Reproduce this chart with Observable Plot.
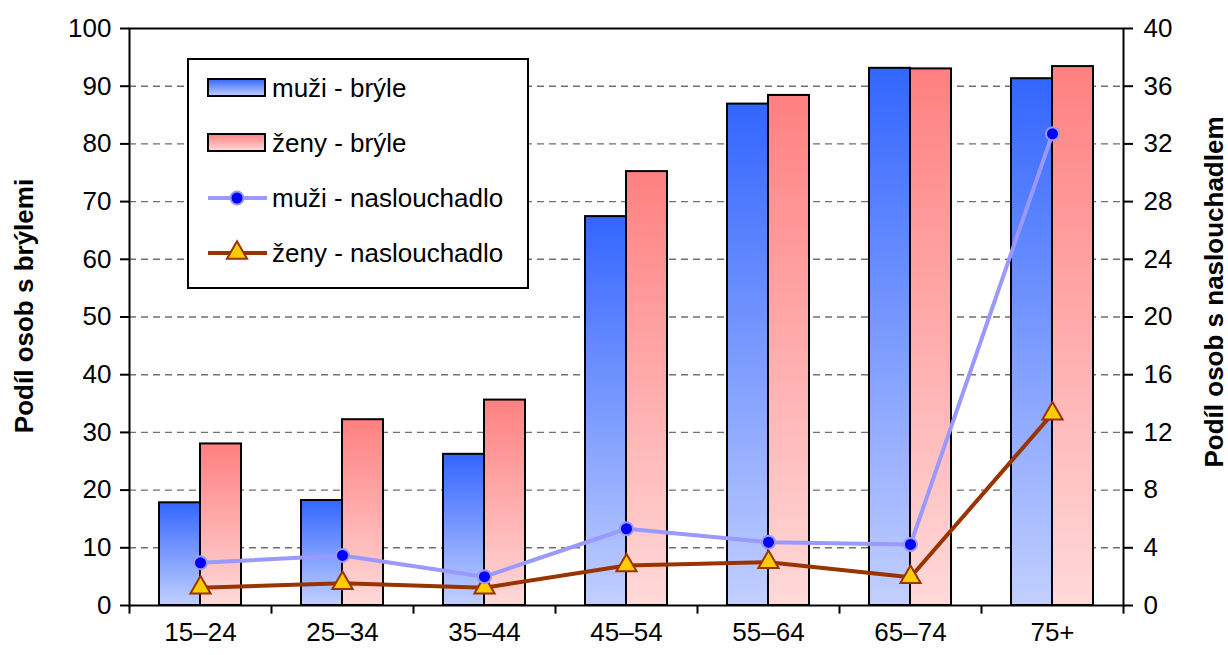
<!DOCTYPE html>
<html>
<head>
<meta charset="utf-8">
<script src="https://cdn.jsdelivr.net/npm/d3@7"></script>
<script src="https://cdn.jsdelivr.net/npm/@observablehq/plot@0.6"></script>
<style>
  html, body { margin: 0; padding: 0; background: white; }
  #wrap { position: relative; width: 1228px; height: 655px; }
  #legend { position: absolute; left: 187px; top: 58px; }
</style>
</head>
<body>
<div id="wrap"></div>
<script>
const ages = ["15–24", "25–34", "35–44", "45–54", "55–64", "65–74", "75+"];
const muziBryle = [17.8, 18.2, 26.2, 67.4, 86.9, 93.1, 91.3];
const zenyBryle = [28.0, 32.2, 35.6, 75.2, 88.4, 93.0, 93.4];
const muziNaslouchadlo = [2.96, 3.47, 2.0, 5.32, 4.39, 4.23, 32.7];
const zenyNaslouchadlo = [1.23, 1.55, 1.23, 2.77, 3.0, 1.96, 13.3];
const leftTicks = [0, 10, 20, 30, 40, 50, 60, 70, 80, 90, 100];
const rightTicks = [0, 4, 8, 12, 16, 20, 24, 28, 32, 36, 40];
const gridTicks = [10, 20, 30, 40, 50, 60, 70, 80, 90];
const seriesNames = ["muži - brýle", "ženy - brýle", "muži - naslouchadlo", "ženy - naslouchadlo"];
const leftTitle = "Podíl osob s brýlemi";
const rightTitle = "Podíl osob s naslouchadlem";

const ratio = 100 / 40; // right axis -> left axis
const rows = (vals) => ages.map((a, i) => ({age: a, v: vals[i]}));

const W = 1228, H = 655, mL = 129, mR = 105, mT = 28, mB = 50;
const half = (W - mL - mR) / ages.length / 2;
const font = "'Liberation Sans', Arial, Helvetica, sans-serif";
const fs = 26;

const chart = Plot.plot({
  width: W, height: H,
  marginLeft: mL, marginRight: mR, marginTop: mT, marginBottom: mB,
  style: {background: "white", color: "black", fontFamily: font, fontSize: fs + "px"},
  x: {domain: ages, padding: 0, axis: null},
  y: {domain: [0, 100], axis: null},
  marks: [
    Plot.ruleY(gridTicks, {y: d => d, stroke: "#707070", strokeWidth: 1.4, strokeDasharray: "7,5"}),
    Plot.barY(rows(muziBryle), {x: "age", y: "v", fill: "url(#gBlue)", stroke: "black", strokeWidth: 2, insetLeft: 30, insetRight: 71}),
    Plot.barY(rows(zenyBryle), {x: "age", y: "v", fill: "url(#gRed)", stroke: "black", strokeWidth: 2, insetLeft: 71, insetRight: 30}),
    Plot.lineY(rows(zenyNaslouchadlo), {x: "age", y: d => d.v * ratio, stroke: "#993300", strokeWidth: 4}),
    Plot.dot(rows(zenyNaslouchadlo), {x: "age", y: d => d.v * ratio, symbol: "triangle", r: 7.5, fill: "#ffcc00", stroke: "#993300", strokeWidth: 2}),
    Plot.lineY(rows(muziNaslouchadlo), {x: "age", y: d => d.v * ratio, stroke: "#9999ff", strokeWidth: 4}),
    Plot.dot(rows(muziNaslouchadlo), {x: "age", y: d => d.v * ratio, r: 6.5, fill: "#0000ff", stroke: "#9999ff", strokeWidth: 2}),
    Plot.frame({stroke: "black", strokeWidth: 2}),
    Plot.axisY(leftTicks, {anchor: "left", tickSize: 9, tickPadding: 9, fontSize: fs, stroke: "black", strokeWidth: 2, label: null}),
    Plot.axisY(rightTicks.map(v => v * ratio), {anchor: "right", tickSize: 9, tickPadding: 11, fontSize: fs, stroke: "black", strokeWidth: 2, label: null, tickFormat: d => String(Math.round(d / ratio))}),
    Plot.axisX({anchor: "bottom", tickSize: 0, tickPadding: 17, fontSize: fs, label: null}),
    Plot.ruleX(ages, {x: d => d, dx: -half, y1: 0, y2: -1.5, stroke: "black", strokeWidth: 2}),
    Plot.ruleX([ages[ages.length - 1]], {x: d => d, dx: half, y1: 0, y2: -1.5, stroke: "black", strokeWidth: 2})
  ]
});

function addGradients(svgSel) {
  const defs = svgSel.insert("defs", ":first-child");
  const g1 = defs.append("linearGradient").attr("id", "gBlue").attr("x1", 0).attr("y1", 0).attr("x2", 0).attr("y2", 1);
  g1.append("stop").attr("offset", "0%").attr("stop-color", "#3366ff");
  g1.append("stop").attr("offset", "100%").attr("stop-color", "#c2cfff");
  const g2 = defs.append("linearGradient").attr("id", "gRed").attr("x1", 0).attr("y1", 0).attr("x2", 0).attr("y2", 1);
  g2.append("stop").attr("offset", "0%").attr("stop-color", "#ff8080");
  g2.append("stop").attr("offset", "100%").attr("stop-color", "#ffd9d9");
}
const svg = d3.select(chart);
addGradients(svg);
// Axis titles (rotated, reading bottom to top)
svg.append("text").attr("transform", "translate(24,306) rotate(-90)")
  .attr("text-anchor", "middle").attr("dy", "0.35em")
  .attr("font-size", fs).attr("font-weight", "bold").attr("fill", "black").text(leftTitle);
svg.append("text").attr("transform", "translate(1214,292) rotate(-90)")
  .attr("text-anchor", "middle").attr("dy", "0.35em")
  .attr("font-size", fs).attr("font-weight", "bold").attr("fill", "black").text(rightTitle);
document.getElementById("wrap").appendChild(chart);

// Legend (inside the plot area, top-left)
const lg = d3.select("#wrap").append("svg").attr("id", "legend")
  .attr("width", 342).attr("height", 231).style("font-family", font);
addGradients(lg);
lg.append("rect").attr("x", 1).attr("y", 1).attr("width", 340).attr("height", 229)
  .attr("fill", "white").attr("stroke", "black").attr("stroke-width", 2);
const rowY = [30, 85, 140, 195];
lg.append("rect").attr("x", 21).attr("y", rowY[0] - 9).attr("width", 57).attr("height", 17)
  .attr("fill", "url(#gBlue)").attr("stroke", "black").attr("stroke-width", 2);
lg.append("rect").attr("x", 21).attr("y", rowY[1] - 9).attr("width", 57).attr("height", 17)
  .attr("fill", "url(#gRed)").attr("stroke", "black").attr("stroke-width", 2);
lg.append("line").attr("x1", 21).attr("x2", 80).attr("y1", rowY[2]).attr("y2", rowY[2])
  .attr("stroke", "#9999ff").attr("stroke-width", 4);
lg.append("circle").attr("cx", 50).attr("cy", rowY[2]).attr("r", 6.5)
  .attr("fill", "#0000ff").attr("stroke", "#9999ff").attr("stroke-width", 2);
lg.append("line").attr("x1", 21).attr("x2", 80).attr("y1", rowY[3]).attr("y2", rowY[3])
  .attr("stroke", "#993300").attr("stroke-width", 4);
lg.append("path").attr("transform", `translate(50,${rowY[3]})`)
  .attr("d", d3.symbol(d3.symbolTriangle, Math.PI * 7.5 * 7.5)())
  .attr("fill", "#ffcc00").attr("stroke", "#993300").attr("stroke-width", 2);
lg.selectAll("text.lbl").data(seriesNames).join("text").attr("class", "lbl")
  .attr("x", 85).attr("y", (d, i) => rowY[i]).attr("dy", "0.35em")
  .attr("font-size", fs).attr("fill", "black").text(d => d);
</script>
</body>
</html>
